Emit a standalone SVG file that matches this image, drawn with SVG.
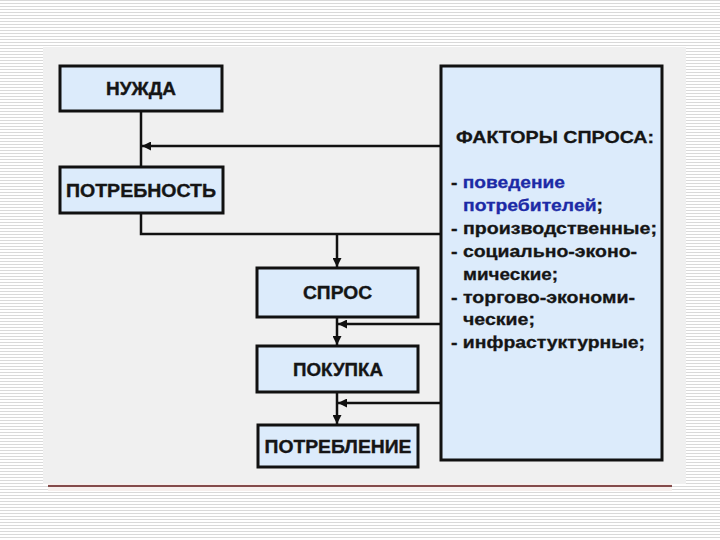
<svg xmlns="http://www.w3.org/2000/svg" width="720" height="540" viewBox="0 0 720 540">
<defs>
<pattern id="stripes" width="8" height="3" patternUnits="userSpaceOnUse">
<rect width="8" height="3" fill="#ffffff"/>
<rect y="0" width="8" height="1" fill="#d9d9d9"/>
</pattern>
<marker id="arr" viewBox="0 0 10 10" refX="10" refY="5" markerWidth="9" markerHeight="9" markerUnits="userSpaceOnUse" orient="auto">
<path d="M0,0 L10,5 L0,10 z" fill="#111"/>
</marker>
<style>
.box{fill:#dcebfb;stroke:#111;stroke-width:3}
.lbl{font-family:"Liberation Sans",Arial,sans-serif;font-weight:bold;font-size:17.5px;fill:#151515;stroke:#151515;stroke-width:0.35;text-anchor:middle}
.ft{font-family:"Liberation Sans",Arial,sans-serif;font-weight:bold;font-size:17px;fill:#151515;stroke:#151515;stroke-width:0.3}
.blue{fill:#1c2aa6;stroke:#1c2aa6}
.con{fill:none;stroke:#111;stroke-width:2.5}
</style>
</defs>
<rect width="720" height="540" fill="url(#stripes)"/>
<rect x="43" y="47" width="643" height="437" fill="#f0f0f0"/>
<rect x="48" y="483" width="624" height="8" fill="#f6efed"/>
<line x1="48" y1="486" x2="672" y2="486" stroke="#5e1414" stroke-width="1.5"/>

<g id="connectors">
<line class="con" x1="141" y1="112" x2="141" y2="167"/>
<line class="con" x1="441" y1="146" x2="142" y2="146" marker-end="url(#arr)"/>
<polyline class="con" points="141,213 141,234 441,234"/>
<line class="con" x1="337" y1="234" x2="337" y2="267" marker-end="url(#arr)"/>
<line class="con" x1="337" y1="318" x2="337" y2="345" marker-end="url(#arr)"/>
<line class="con" x1="441" y1="324" x2="338" y2="324" marker-end="url(#arr)"/>
<line class="con" x1="337" y1="393" x2="337" y2="424" marker-end="url(#arr)"/>
<line class="con" x1="441" y1="403" x2="338" y2="403" marker-end="url(#arr)"/>
</g>

<g id="nuzhda">
<rect class="box" x="60" y="66" width="162" height="45"/>
<text class="lbl" x="141" y="95" textLength="70" lengthAdjust="spacingAndGlyphs">НУЖДА</text>
</g>
<g id="potrebnost">
<rect class="box" x="60" y="167" width="163" height="46"/>
<text class="lbl" x="141" y="197" textLength="150" lengthAdjust="spacingAndGlyphs">ПОТРЕБНОСТЬ</text>
</g>
<g id="spros">
<rect class="box" x="257" y="268" width="161" height="49"/>
<text class="lbl" x="337.5" y="299" textLength="69" lengthAdjust="spacingAndGlyphs">СПРОС</text>
</g>
<g id="pokupka">
<rect class="box" x="257" y="346" width="161" height="46"/>
<text class="lbl" x="338" y="376" textLength="90" lengthAdjust="spacingAndGlyphs">ПОКУПКА</text>
</g>
<g id="potreblenie">
<rect class="box" x="258" y="425" width="160" height="42"/>
<text class="lbl" x="338" y="453" textLength="147" lengthAdjust="spacingAndGlyphs">ПОТРЕБЛЕНИЕ</text>
</g>
<g id="factors">
<rect class="box" x="441" y="66" width="221" height="394"/>
<text class="ft" x="456" y="143" textLength="198" lengthAdjust="spacingAndGlyphs">ФАКТОРЫ СПРОСА:</text>
<text class="ft" x="451" y="188" textLength="114" lengthAdjust="spacingAndGlyphs">- <tspan class="blue">поведение</tspan></text>
<text class="ft" x="463" y="211" textLength="140" lengthAdjust="spacingAndGlyphs"><tspan class="blue">потребителей</tspan>;</text>
<text class="ft" x="451" y="234" textLength="206" lengthAdjust="spacingAndGlyphs">- производственные;</text>
<text class="ft" x="451" y="257" textLength="186" lengthAdjust="spacingAndGlyphs">- социально-эконо-</text>
<text class="ft" x="463" y="280" textLength="95" lengthAdjust="spacingAndGlyphs">мические;</text>
<text class="ft" x="451" y="303" textLength="184" lengthAdjust="spacingAndGlyphs">- торгово-экономи-</text>
<text class="ft" x="463" y="325" textLength="72" lengthAdjust="spacingAndGlyphs">ческие;</text>
<text class="ft" x="451" y="348" textLength="194" lengthAdjust="spacingAndGlyphs">- инфрастуктурные;</text>
</g>
</svg>
